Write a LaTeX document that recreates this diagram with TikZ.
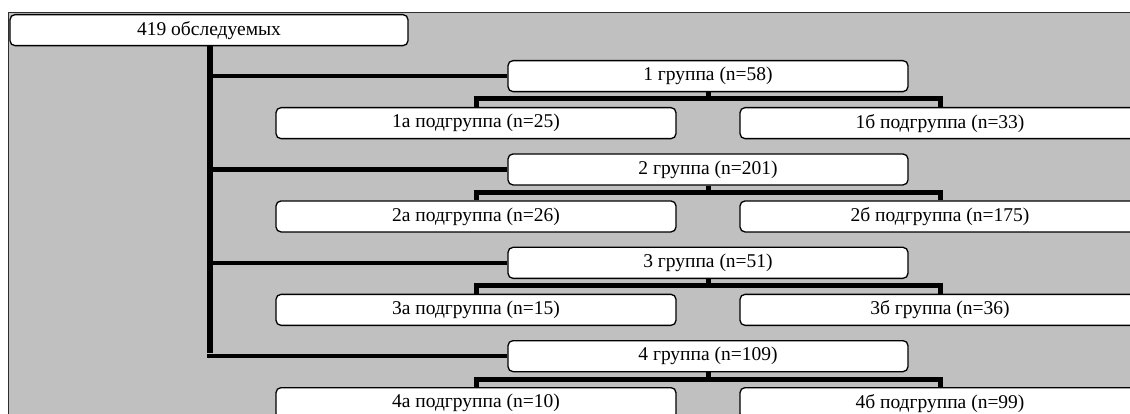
\documentclass[tikz,border=0pt]{standalone}
\usepackage{fontspec}
\setmainfont{Liberation Serif}
\definecolor{panel}{HTML}{C0C0C0}
\definecolor{frame}{HTML}{2E2E2E}
\tikzset{
  box/.style={draw=black, fill=white, line width=1.3pt, rounded corners=5pt,
    minimum width=400pt, minimum height=31pt, inner sep=0pt, anchor=north,
    font=\fontsize{19.5}{22}\selectfont},
  trunk/.style={line width=6.5pt},
  branch/.style={line width=4.5pt},
  bar/.style={line width=5pt, line join=miter},
}
\begin{document}
\begin{tikzpicture}[x=1pt, y=-1pt]
\useasboundingbox (0,0) rectangle (1130,414);
\clip (0,0) rectangle (1130,414);
% grey panel
\draw[frame, fill=panel, line width=1.5pt] (8.5,12.5) rectangle (1160,440);

% root
\node[box, minimum width=398pt] (root) at (209,14) {419 обследуемых};

% groups and subgroups
\foreach \i/\gy/\sy/\gt/\at/\bt in {
  1/60/107/{1 группа (n=58)}/{1а подгруппа (n=25)}/{1б подгруппа (n=33)},
  2/153.3/200.3/{2 группа (n=201)}/{2а подгруппа (n=26)}/{2б подгруппа (n=175)},
  3/246.7/293.7/{3 группа (n=51)}/{3а подгруппа (n=15)}/{3б группа (n=36)},
  4/340/387/{4 группа (n=109)}/{4а подгруппа (n=10)}/{4б подгруппа (n=99)}}{
  \node[box] (g\i) at (708,\gy) {\gt};
  \node[box] (g\i a) at (476,\sy) {\at};
  \node[box] (g\i b) at (940,\sy) {\bt};
}

% trunk from the root to each group
\coordinate (t) at (210,45.5);
\draw[trunk] (t) -- ([yshift=3pt]t |- g4.west);
\foreach \i in {1,...,4}{
  \draw[branch] ([xshift=-3pt]t |- g\i.west) -- (g\i.west);
}

% split of each group into its two subgroups
\foreach \i in {1,...,4}{
  \draw[bar] (g\i.south) -- ++(0,7);
  \draw[bar] (g\i a.north) -- ++(0,-8) -| (g\i b.north);
}
\end{tikzpicture}
\end{document}
